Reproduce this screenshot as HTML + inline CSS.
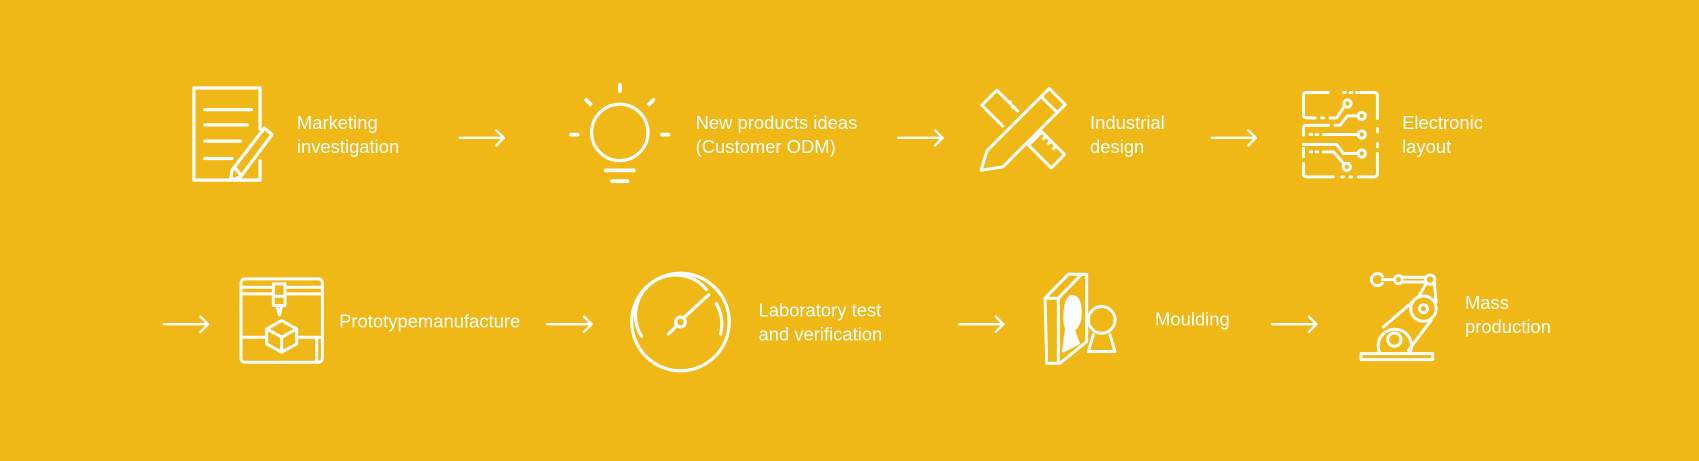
<!DOCTYPE html>
<html><head><meta charset="utf-8"><style>
html,body{margin:0;padding:0;background:#EFB817;}
svg{display:block;}
text{font-family:"Liberation Sans",sans-serif;font-size:17px;fill:#fff;}
</style></head><body>
<svg width="1699" height="461" viewBox="0 0 1568 425" xmlns="http://www.w3.org/2000/svg">
<rect width="1568" height="425" fill="#EFB817"/>
<g fill="none" stroke="#fff" stroke-width="3" stroke-linecap="round" stroke-linejoin="round">
<g stroke-width="2.2">
<path d="M424,127H465M458,120L465,127L458,134"/>
<path d="M829,127H870M863,120L870,127L863,134"/>
<path d="M1118,127H1159M1152,120L1159,127L1152,134"/>
<path d="M151,299H192M185,292L192,299L185,306"/>
<path d="M505,299H546M539,292L546,299L539,306"/>
<path d="M885,299H926M919,292L926,299L919,306"/>
<path d="M1174,299H1215M1208,292L1215,299L1208,306"/>
</g>
<path d="M240,120V81H179V166H240V147" stroke-linecap="butt"/>
<path d="M189,101H232M189,115H228M189,130H222M189,146H214"/>
<path d="M244,118L251,124L222,163L213,166L214,157Z M217,155L222,161"/>
<circle cx="572" cy="122" r="26"/>
<path d="M572,78V84M527,124H533M611,124H617M541,92L545,96M603,92L599,96M559,157H585M565,167H579" stroke-width="3.5"/>
<g transform="translate(900,73.8) scale(0.3077)" stroke-width="9" stroke-linecap="butt">
<path d="M18,270L35,212L222,25L270,73L83,260Z"/>
<path d="M198,49L246,97"/>
<path d="M85,140L20,75L65,30L130,95M75,40L85,50M90,55L100,65M100,70L108,62M110,85L118,77"/>
<path d="M160,195L200,155L268,223L228,263Z M210,170L202,178M225,185L217,193M240,200L232,208"/>
</g>
<g transform="translate(1190.6,78.4) scale(0.3077)" stroke-width="9">
<path d="M115,22H50Q40,22 40,32V88Q40,98 50,98H75M95,98H100M120,98H140L162,64"/>
<circle cx="172" cy="55" r="11"/>
<path d="M160,22H165M180,22H185M200,22H252Q262,22 262,32V100M262,130V140M262,175V185M262,205V265Q262,275 252,275H205M180,275H185M155,275H160M130,275H50Q40,275 40,265V235M40,190V215"/>
<path d="M40,150V130Q40,120 50,120H115M135,120H150L172,92H202"/>
<circle cx="215" cy="92" r="11"/>
<path d="M60,148H65M78,148H83M100,148H202"/>
<circle cx="215" cy="148" r="11"/>
<path d="M40,178H140L160,205H202"/>
<circle cx="215" cy="205" r="11"/>
<path d="M60,200H65M78,200H83M100,200H130L160,234"/>
<circle cx="170" cy="245" r="11"/>
</g>
<g transform="translate(216.9,251) scale(0.3077)" stroke-width="9">
<rect x="18" y="20" width="244" height="250" rx="12"/>
<path d="M18,45H115M150,45H262M18,65H115M150,65H262"/>
<path d="M115,35H150V100H115ZM115,72H150M125,100L133,128L140,100"/>
<path d="M140,145L185,170V215L140,240L95,215V170ZM95,170L140,195L185,170M140,195V240"/>
<path d="M18,195H95M185,195H262M245,195V270"/>
</g>
<circle cx="628" cy="297" r="45"/>
<path d="M592,310A37,37 0 0 1 652,267M661,280A37,37 0 0 1 665,308"/>
<circle cx="628" cy="297" r="4.5"/>
<path d="M624,301L617,308M631,293L654,272"/>
<g transform="translate(955.2,247.3) scale(0.3077)" stroke-width="9">
<path d="M30,90L100,18H155V220L75,285H35L30,90ZM30,90H70V285M70,90L140,18"/>
<path d="M110,85Q140,85 135,150Q130,175 115,185L130,225L85,248L95,180Q85,160 92,115Q98,85 110,85Z" fill="#fff"/>
<circle cx="200" cy="155" r="40"/>
<path d="M175,200L160,250H240L225,200"/>
</g>
<g transform="translate(1250.6,244.6) scale(0.3077)" stroke-width="9">
<rect x="18" y="265" width="215" height="18"/>
<path d="M75,265A50,50 0 1 1 165,262"/>
<circle cx="118" cy="223" r="20"/>
<circle cx="205" cy="130" r="38"/>
<circle cx="205" cy="130" r="12"/>
<path d="M85,185L172,110M160,255L228,165M190,95L212,56M238,55L243,110"/>
<circle cx="225" cy="43" r="14"/>
<path d="M142,36H211M142,50H211"/>
<circle cx="130" cy="43" r="12"/>
<path d="M82,33A18,18 0 1 0 82,53M82,43H118"/>
</g>
</g>
<text x="274" y="119">Marketing</text>
<text x="274" y="141">investigation</text>
<text x="642" y="119">New products ideas</text>
<text x="642" y="141">(Customer ODM)</text>
<text x="1006" y="119">Industrial</text>
<text x="1006" y="141">design</text>
<text x="1294" y="119">Electronic</text>
<text x="1294" y="141">layout</text>
<text x="313" y="302">Prototypemanufacture</text>
<text x="700" y="292">Laboratory test</text>
<text x="700" y="314">and verification</text>
<text x="1066" y="300">Moulding</text>
<text x="1352" y="285">Mass</text>
<text x="1352" y="307">production</text>
</svg>
</body></html>
